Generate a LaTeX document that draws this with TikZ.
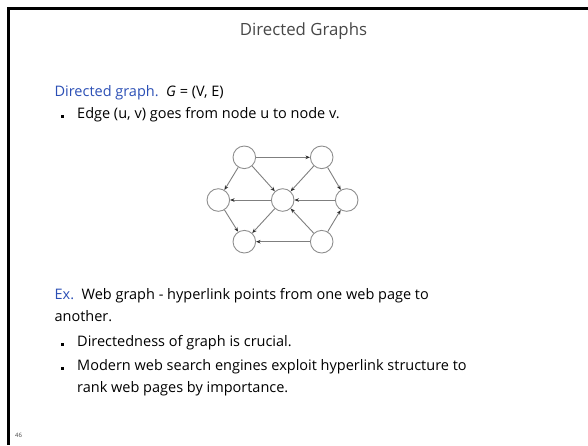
\documentclass[tikz,border=0pt]{standalone}
\usepackage{fontspec}
\setmainfont{Open Sans}
\usepackage{xcolor}
\definecolor{cBlue}{HTML}{2B4FB5}
\definecolor{cTitle}{HTML}{474747}
\definecolor{cNode}{HTML}{8E8E8E}
\definecolor{cEdge}{HTML}{7F7F7F}
\definecolor{cTip}{HTML}{2F2F2F}
\usetikzlibrary{arrows.meta}
\tikzset{
  slide-title/.style={anchor=base,inner sep=0pt,text=cTitle,
    font=\fontsize{16.8}{19}\selectfont},
  slide-text/.style={anchor=base west,inner sep=0pt,
    font=\fontsize{14.5}{17}\selectfont},
  slide-bullet/.style={fill=black,inner sep=0pt,minimum size=3pt},
  page-num/.style={anchor=base west,inner sep=0pt,text=cTitle,
    font=\fontsize{6}{7}\selectfont},
  node-vertex/.style={draw=cNode,line width=0.9pt,circle,
    minimum size=22.6pt,inner sep=0pt},
  arrow-edge/.style={-{Stealth[length=4.5pt,width=3.6pt,color=cTip]},
    draw=cEdge,line width=0.9pt},
}
\begin{document}
\begin{tikzpicture}[x=1pt,y=-1pt]
  \useasboundingbox (0,0) rectangle (588,445);
  % slide frame
  \draw[line width=2.6pt] (588,8.3) -- (8.3,8.3) -- (8.3,445);
  \node[slide-title] (title) at (303.5,35) {Directed Graphs};
  % definition
  \node[slide-text] (defn) at (54.4,96)
    {\textcolor{cBlue}{Directed graph.}\ \ \textit{G} = (V, E)};
  \node[slide-bullet] (b1) at (62,116) {};
  \node[slide-text] (edge) at (77,118) {Edge (u, v) goes from node u to node v.};
  % graph
  \node[node-vertex] (v1) at (218.3,200) {};
  \node[node-vertex] (v2) at (244.3,157.3) {};
  \node[node-vertex] (v3) at (321.7,157.3) {};
  \node[node-vertex] (v4) at (346.7,200) {};
  \node[node-vertex] (v5) at (282.7,200) {};
  \node[node-vertex] (v6) at (244.3,241.7) {};
  \node[node-vertex] (v7) at (321.7,241.7) {};
  \foreach \a/\b in {v2/v3,v2/v1,v2/v5,v3/v5,v3/v4,v5/v1,v4/v5,%
      v1/v6,v5/v6,v7/v5,v7/v4,v7/v6}
    \draw[arrow-edge] (\a) -- (\b);
  % example
  \node[slide-text] (ex) at (54.4,299)
    {\textcolor{cBlue}{Ex.}\ \ Web graph - hyperlink points from one web page to};
  \node[slide-text] (another) at (54.4,321) {another.};
  \node[slide-bullet] (b2) at (62,344) {};
  \node[slide-text] (dir) at (77,346) {Directedness of graph is crucial.};
  \node[slide-bullet] (b3) at (62,368) {};
  \node[slide-text] (modern) at (77,370)
    {Modern web search engines exploit hyperlink structure to};
  \node[slide-text] (rank) at (77,392) {rank web pages by importance.};
  \node[page-num] (num) at (15,437) {46};
\end{tikzpicture}
\end{document}
